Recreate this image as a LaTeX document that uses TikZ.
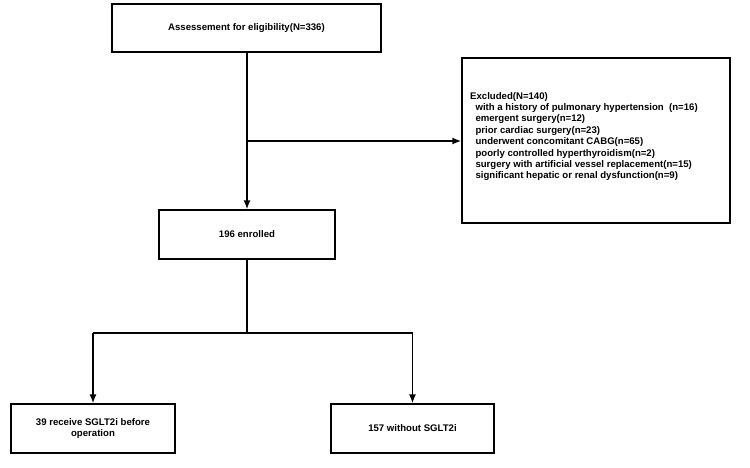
\documentclass[tikz,border=0pt]{standalone}
\usepackage{fontspec}
\setmainfont{Liberation Sans}
\usetikzlibrary{arrows.meta}
\begin{document}
\begin{tikzpicture}[x=1pt,y=-1pt,
  box/.style={draw=black, line width=1.4pt, inner sep=0pt, font=\bfseries\fontsize{9.6}{11.5}\selectfont, align=center},
  conn/.style={line width=1.4pt},
  arr/.style={conn, -{Latex[length=9pt,width=7pt]}}]
\useasboundingbox (0,0) rectangle (750,468);
\node[box, minimum width=269pt, minimum height=48pt] (assess) at (246.5,28) {Assessement for eligibility(N=336)};
\node[box, minimum width=268pt, minimum height=165pt] (excl) at (596,140.5) {};
\node[font=\bfseries\fontsize{9.6}{11.4}\selectfont, align=left, anchor=north west, inner sep=0pt] (excltext) at (470,92) {Excluded(N=140)\\
\ \ with a history of pulmonary hypertension\ \ (n=16)\\
\ \ emergent surgery(n=12)\\
\ \ prior cardiac surgery(n=23)\\
\ \ underwent concomitant CABG(n=65)\\
\ \ poorly controlled hyperthyroidism(n=2)\\
\ \ surgery with artificial vessel replacement(n=15)\\
\ \ significant hepatic or renal dysfunction(n=9)};
\node[box, minimum width=176pt, minimum height=49pt] (enrolled) at (247,234.5) {196 enrolled};
\node[box, minimum width=164pt, minimum height=49pt] (sglt) at (93,428.5) {39 receive SGLT2i before\\operation};
\node[box, minimum width=163pt, minimum height=49pt] (without) at (412.5,428.5) {157 without SGLT2i};
\coordinate (branch) at (247,141);
\coordinate (split) at (247,333);
\draw[arr] (assess.south -| enrolled.north) -- (enrolled.north);
\draw[arr] (branch) -- (branch -| excl.west);
\draw[conn] (enrolled.south) -- (split);
\draw[conn] (split -| sglt.north) -- (split -| without.north);
\draw[arr] (split -| sglt.north) -- (sglt.north);
\draw[arr] (split -| without.north) -- (without.north);
\end{tikzpicture}
\end{document}
